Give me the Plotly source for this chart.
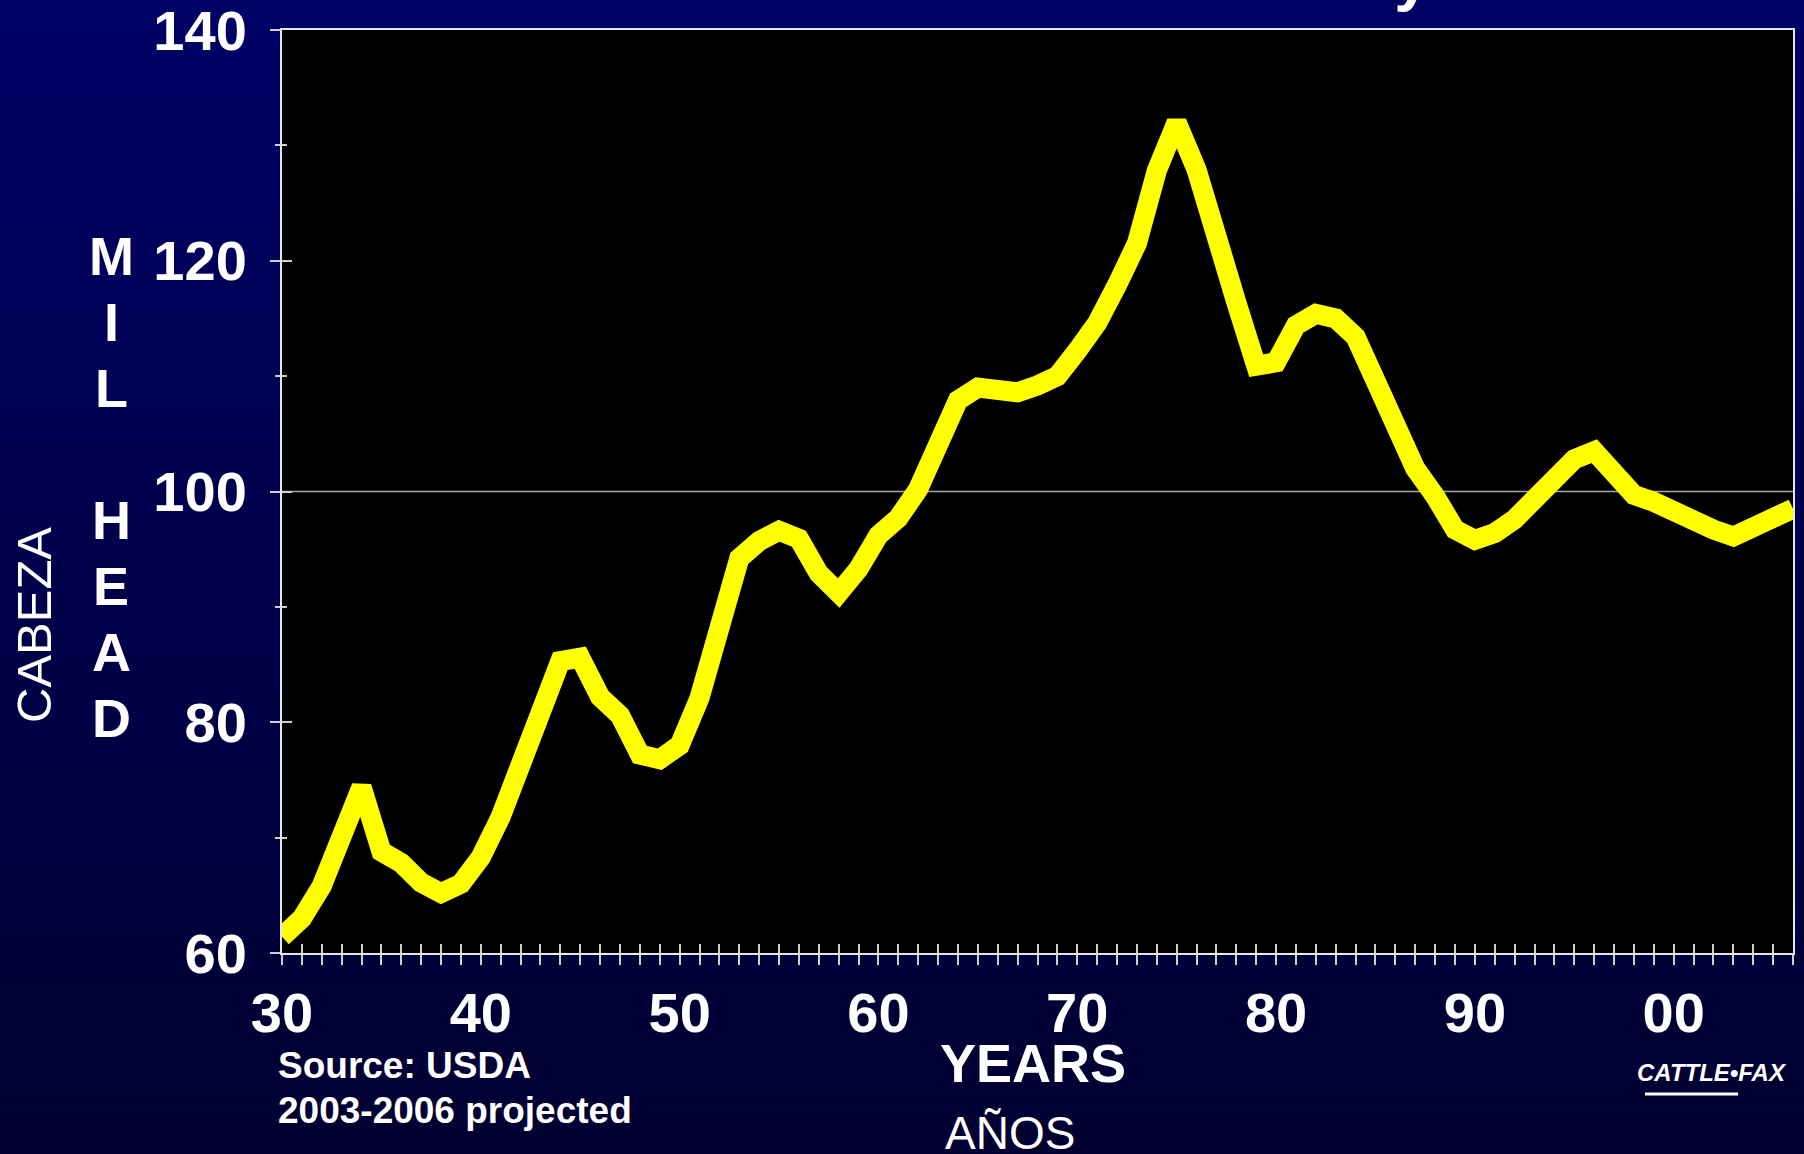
import plotly.graph_objects as go

# ---- data ----
years = list(range(1930, 2007))
head_mil = [
    61.4, 63.0, 65.8, 70.2, 74.4, 68.8, 67.8, 66.1, 65.2, 66.0,   # 1930-1939
    68.3, 71.8, 76.0, 81.2, 85.3, 85.6, 82.2, 80.6, 77.2, 76.8,   # 1940-1949
    78.0, 82.1, 88.1, 94.2, 95.7, 96.6, 95.9, 92.9, 91.2, 93.3,   # 1950-1959
    96.2, 97.7, 100.2, 104.5, 107.9, 109.0, 108.9, 108.6, 109.2, 110.0,  # 1960-1969
    112.2, 114.6, 117.9, 121.5, 127.8, 132.0, 127.9, 122.8, 116.4, 110.9,  # 1970-1979
    111.2, 114.4, 115.4, 115.0, 113.4, 109.6, 105.4, 102.0, 99.6, 96.7,   # 1980-1989
    95.8, 96.4, 97.6, 99.2, 101.0, 102.8, 103.5, 101.5, 99.7, 99.1,     # 1990-1999
    98.2, 97.3, 96.7, 96.1, 96.8, 97.9, 98.5,                          # 2000-2006
]
x_tick_vals = [1930, 1940, 1950, 1960, 1970, 1980, 1990, 2000]
x_tick_text = ["30", "40", "50", "60", "70", "80", "90", "00"]
y_tick_vals = [60, 80, 100, 120, 140]
y_tick_text = ["60", "80", "100", "120", "140"]
grid_value = 100
x_range = [1930, 2006]
y_range = [60, 140]

# ---- layout geometry (pixels) ----
W, H = 1804, 1154
L, R, T, B = 282, 11, 30, 201
PW, PH = W - L - R, H - T - B


def px_x(p):
    return (p - L) / PW


def px_y(p):
    return (H - B - p) / PH


FONT = "Liberation Sans, Arial, sans-serif"
TICKC = "#cfcfcf"

fig = go.Figure()
fig.add_trace(go.Scatter(
    x=years, y=head_mil, mode="lines",
    line=dict(color="#FFFF00", width=20),
    hoverinfo="skip", showlegend=False,
))
# invisible copy on overlay axes (for inward half of the cross ticks)
fig.add_trace(go.Scatter(
    x=years, y=head_mil, mode="lines", xaxis="x2", yaxis="y2",
    line=dict(color="rgba(0,0,0,0)", width=0),
    hoverinfo="skip", showlegend=False,
))

# background gradient bands
shapes = []
n_bands = 60
top_rgb, bot_rgb = (0, 0, 102), (0, 0, 48)
for i in range(n_bands):
    f = i / (n_bands - 1)
    c = tuple(round(top_rgb[k] + (bot_rgb[k] - top_rgb[k]) * f) for k in range(3))
    y1 = 1 + T / PH - i * (H / PH) / n_bands
    y0 = y1 - (H / PH) / n_bands - 0.002
    shapes.append(dict(type="rect", xref="paper", yref="paper",
                       x0=-L / PW - 0.01, x1=1 + R / PW + 0.01, y0=y0, y1=y1,
                       fillcolor="rgb(%d,%d,%d)" % c, line=dict(width=0), layer="below"))
# plot area black
shapes.append(dict(type="rect", xref="paper", yref="paper", x0=0, x1=1, y0=0, y1=1,
                   fillcolor="black", line=dict(width=0), layer="below"))
# single grid line
shapes.append(dict(type="line", xref="paper", yref="y", x0=0, x1=1,
                   y0=grid_value, y1=grid_value, line=dict(color="#a8a8a8", width=1.5),
                   layer="below"))
# logo underline bar
shapes.append(dict(type="line", xref="paper", yref="paper",
                   x0=px_x(1645), x1=px_x(1738), y0=px_y(1094), y1=px_y(1094),
                   line=dict(color="white", width=3)))

annotations = []
# cut-off title (only the descender shows)
annotations.append(dict(text="<b>U.S. Cattle Inventory</b>", xref="paper", yref="paper",
                        x=px_x(1432), y=px_y(15), xanchor="right", yanchor="bottom",
                        showarrow=False, font=dict(family=FONT, size=64, color="white")))
# MIL HEAD stacked
letters = ["M", "I", "L", "", "H", "E", "A", "D"]
for i, ch in enumerate(letters):
    if ch:
        annotations.append(dict(text="<b>%s</b>" % ch, xref="paper", yref="paper",
                                x=px_x(111), y=px_y(256 + 66 * i), xanchor="center",
                                yanchor="middle", showarrow=False,
                                font=dict(family=FONT, size=54, color="white")))
annotations.append(dict(text="CABEZA", xref="paper", yref="paper", x=px_x(34), y=px_y(625),
                        xanchor="center", yanchor="middle", textangle=-90, showarrow=False,
                        font=dict(family=FONT, size=49, color="white")))
annotations.append(dict(text="<b>YEARS</b>", xref="paper", yref="paper", x=px_x(1033),
                        y=px_y(1063), xanchor="center", yanchor="middle", showarrow=False,
                        font=dict(family=FONT, size=54, color="white")))
annotations.append(dict(text="AÑOS", xref="paper", yref="paper", x=px_x(1010),
                        y=px_y(1133), xanchor="center", yanchor="middle", showarrow=False,
                        font=dict(family=FONT, size=46, color="white")))
annotations.append(dict(text="<b>Source: USDA</b>", xref="paper", yref="paper", x=px_x(276),
                        y=px_y(1065), xanchor="left", yanchor="middle", showarrow=False,
                        font=dict(family=FONT, size=37, color="white")))
annotations.append(dict(text="<b>2003-2006 projected</b>", xref="paper", yref="paper",
                        x=px_x(276), y=px_y(1110), xanchor="left", yanchor="middle",
                        showarrow=False, font=dict(family=FONT, size=37, color="white")))
annotations.append(dict(text="<b><i>CATTLE•FAX</i></b>", xref="paper", yref="paper",
                        x=px_x(1712), y=px_y(1072), xanchor="center", yanchor="middle",
                        showarrow=False, font=dict(family=FONT, size=24, color="white")))

axis_common = dict(showgrid=False, zeroline=False, automargin=False)
fig.update_layout(
    width=W, height=H,
    margin=dict(l=L, r=R, t=T, b=B, pad=0, autoexpand=False),
    paper_bgcolor="#000044", plot_bgcolor="black",
    showlegend=False,
    shapes=shapes, annotations=annotations,
    xaxis=dict(range=x_range, tickmode="array", tickvals=x_tick_vals, ticktext=x_tick_text,
               ticks="outside", ticklen=10, tickwidth=2, tickcolor=TICKC,
               minor=dict(tickmode="linear", tick0=1930, dtick=1, ticks="outside",
                          ticklen=10, tickwidth=2, tickcolor=TICKC),
               showline=True, linecolor="#e6e6e6", linewidth=2, mirror=True,
               ticklabeloverflow="allow",
               tickfont=dict(family=FONT, size=56, color="white", weight="bold"),
               **axis_common),
    yaxis=dict(range=y_range, tickmode="array", tickvals=y_tick_vals, ticktext=y_tick_text,
               ticks="outside", ticklen=10, tickwidth=2, tickcolor=TICKC,
               minor=dict(tickmode="linear", tick0=60, dtick=10, ticks="outside",
                          ticklen=5, tickwidth=2, tickcolor=TICKC),
               showline=True, linecolor="#e6e6e6", linewidth=2, mirror=True,
               ticklabelstandoff=12, ticklabeloverflow="allow",
               tickfont=dict(family=FONT, size=56, color="white", weight="bold"),
               **axis_common),
    xaxis2=dict(range=x_range, overlaying="x", anchor="y2", side="bottom",
                tickmode="linear", tick0=1930, dtick=1, ticks="inside", ticklen=9,
                tickwidth=2, tickcolor=TICKC, showticklabels=False, showline=False,
                **axis_common),
    yaxis2=dict(range=y_range, overlaying="y", anchor="x2", side="left",
                tickmode="array", tickvals=y_tick_vals, ticks="inside", ticklen=10,
                tickwidth=2, tickcolor=TICKC, showticklabels=False, showline=False,
                minor=dict(tickmode="linear", tick0=60, dtick=10, ticks="inside",
                           ticklen=5, tickwidth=2, tickcolor=TICKC),
                **axis_common),
)

fig.write_html("out.html", config={"displayModeBar": False},
               post_script="document.body.style.margin='0';document.body.style.overflow='hidden';")
